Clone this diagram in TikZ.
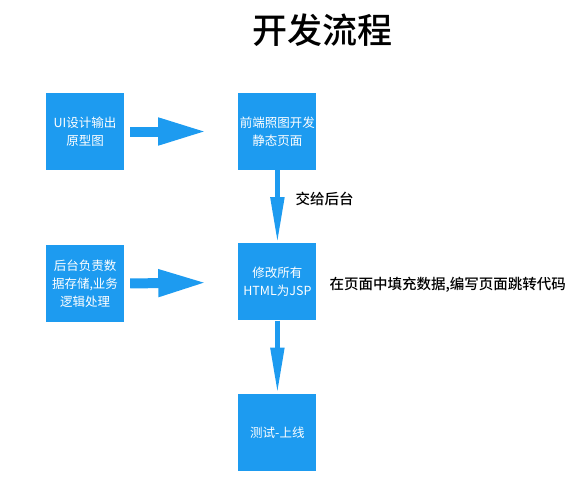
\documentclass[tikz,border=0pt]{standalone}
\usepackage{fontspec}
\newfontfamily\cjk{Noto Sans CJK SC}
\newfontfamily\cjkmed{Noto Sans CJK SC}[UprightFont=* Medium]
\usepackage{tikz}
\usetikzlibrary{arrows.meta,positioning}
\definecolor{flowblue}{RGB}{29,155,240}

\begin{document}
\begin{tikzpicture}[
  x=1pt, y=-1pt,
  node distance=73pt and 114pt,
  stepbox/.style={
    rectangle, fill=flowblue, inner sep=0pt,
    minimum width=78pt, minimum height=77pt,
    align=center, text=white, font=\cjk\fontsize{12.5}{18}\selectfont
  },
  note/.style={anchor=west, font=\cjkmed\fontsize{14.5}{17}\selectfont},
  bigarrow/.style={draw=flowblue, line width=10pt,
    -{Triangle[length=49pt 0 0, width=25pt 0 0]}},
  downarrow/.style={draw=flowblue, line width=5pt,
    -{Triangle[length=46pt 0 0, width=13pt 0 0]}}
]
\useasboundingbox (0,0) rectangle (580,500);
% Title
\node[font=\cjkmed\fontsize{35}{40}\selectfont] (title) at (322,30) {开发流程};
% Left column
\node[stepbox] (design)  at (85,131.5)            {UI设计输出\\原型图};
\node[stepbox] (backend) [below=75pt of design]   {后台负责数\\据存储,业务\\逻辑处理};
% Right column
\node[stepbox] (static)  [right=114pt of design]  {前端照图开发\\静态页面};
\node[stepbox] (jsp)     [below=of static]        {修改所有\\HTML为JSP};
\node[stepbox] (release) [below=of jsp]           {测试-上线};
% Notes
\node[note] (handover) at (292,199) {交给后台};
\node[note] (fill)     at (326,285) {在页面中填充数据,编写页面跳转代码};
% Arrows
\draw[bigarrow, shorten <=6pt, shorten >=31pt] (design)  -- (static);
\draw[bigarrow, shorten <=6pt, shorten >=31pt] (backend) -- (jsp);
\draw[downarrow] (static) -- (jsp);
\draw[downarrow] (jsp)    -- (release);
\end{tikzpicture}
\end{document}
